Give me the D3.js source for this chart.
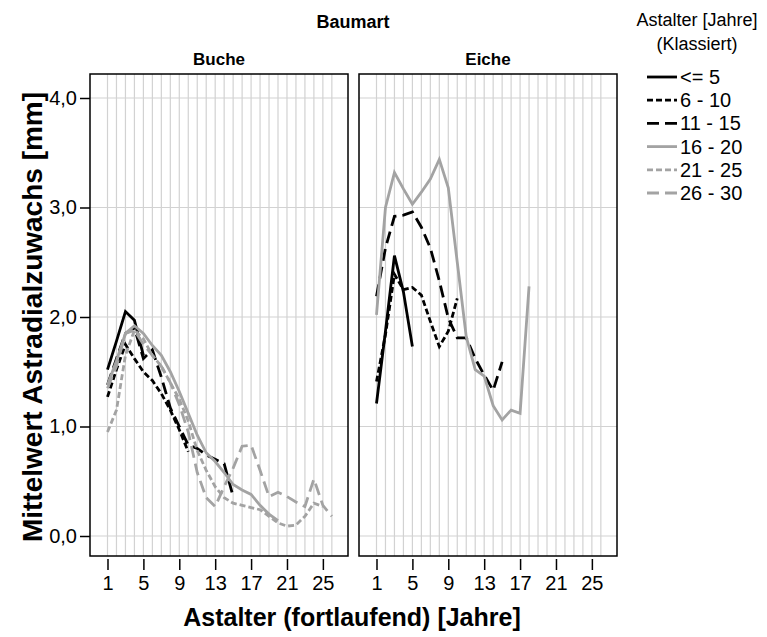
<!DOCTYPE html>
<html>
<head>
<meta charset="utf-8">
<script src="https://cdn.jsdelivr.net/npm/d3@7"></script>
<style>
  html, body { margin: 0; padding: 0; background: #fff; }
  svg { display: block; font-family: "Liberation Sans", Arial, sans-serif; }
</style>
</head>
<body>
<svg id="chart" width="767" height="637"></svg>
<script>
// Mean radial branch increment by branch age, per tree species and age class
const species = ["Buche", "Eiche"];
const ageClasses = ["<= 5", "6 - 10", "11 - 15", "16 - 20", "21 - 25", "26 - 30"];
const xTicks = [1, 5, 9, 13, 17, 21, 25];
const yTicks = [0, 1, 2, 3, 4];

// Buche (values for branch age 1, 2, 3, ...)
const bucheLe5   = [1.52, 1.78, 2.05, 1.97, 1.65];
const buche6_10  = [1.27, 1.52, 1.75, 1.62, 1.5, 1.42, 1.3, 1.15, 0.97, 0.77];
const buche11_15 = [1.38, 1.62, 1.85, 1.9, 1.62, 1.7, 1.45, 1.17, 1.0, 0.83, 0.8, 0.74, 0.7, 0.66, 0.36];
const buche16_20 = [1.38, 1.6, 1.85, 1.92, 1.85, 1.74, 1.65, 1.5, 1.32, 1.12, 0.92, 0.76, 0.68, 0.58, 0.47, 0.42, 0.38, 0.28, 0.2, 0.14];
const buche21_25 = [0.95, 1.15, 1.65, 1.88, 1.8, 1.65, 1.55, 1.4, 1.25, 1.05, 0.78, 0.6, 0.45, 0.35, 0.3, 0.28, 0.26, 0.24, 0.18, 0.12, 0.09, 0.1, 0.18, 0.3, 0.27];
const buche26_30 = [1.35, 1.55, 1.85, 1.88, 1.75, 1.65, 1.55, 1.4, 1.2, 0.95, 0.58, 0.35, 0.27, 0.45, 0.62, 0.82, 0.83, 0.6, 0.36, 0.4, 0.36, 0.31, 0.27, 0.52, 0.28, 0.18];

// Eiche
const eicheLe5   = [1.21, 1.87, 2.56, 2.23, 1.73];
const eiche6_10  = [1.41, 1.84, 2.39, 2.25, 2.27, 2.2, 1.96, 1.73, 1.87, 2.17];
const eiche11_15 = [2.19, 2.63, 2.92, 2.93, 2.96, 2.82, 2.63, 2.33, 1.99, 1.81, 1.81, 1.62, 1.47, 1.33, 1.59];
const eiche16_20 = [2.02, 3.0, 3.32, 3.17, 3.03, 3.14, 3.26, 3.44, 3.18, 2.5, 1.82, 1.52, 1.46, 1.19, 1.06, 1.15, 1.12, 2.28];

const seriesBySpecies = {
  Buche: [bucheLe5, buche6_10, buche11_15, buche16_20, buche21_25, buche26_30],
  Eiche: [eicheLe5, eiche6_10, eiche11_15, eiche16_20, [], []]
};

const lineStyles = [
  { color: "#000", dash: null },
  { color: "#000", dash: "6,3" },
  { color: "#000", dash: "12,6" },
  { color: "#a3a3a3", dash: null },
  { color: "#a3a3a3", dash: "6,3" },
  { color: "#a3a3a3", dash: "12,6" }
];

const svg = d3.select("#chart");
const panelW = 258, panelTop = 74, panelBottom = 556;
const panelLeft = { Buche: 90, Eiche: 359 };

const y = d3.scaleLinear().domain([0, 4]).range([536, 98]);

// Overall header and axis titles
svg.append("text").attr("x", 353).attr("y", 28).attr("text-anchor", "middle")
  .attr("font-size", 18).attr("font-weight", "bold").text("Baumart");
svg.append("text").attr("x", 352).attr("y", 626).attr("text-anchor", "middle")
  .attr("font-size", 25).attr("font-weight", "bold").text("Astalter (fortlaufend) [Jahre]");
svg.append("text").attr("transform", "translate(42,317) rotate(-90)").attr("text-anchor", "middle")
  .attr("font-size", 28).attr("font-weight", "bold").text("Mittelwert Astradialzuwachs [mm]");

species.forEach(sp => {
  const x0 = panelLeft[sp];
  const x = d3.scaleLinear().domain([-0.95, 27.8]).range([x0, x0 + panelW]);
  const g = svg.append("g");

  g.append("text").attr("x", x0 + panelW / 2).attr("y", 65).attr("text-anchor", "middle")
    .attr("font-size", 17).attr("font-weight", "bold").text(sp);

  // grid
  g.append("g").selectAll("line").data(d3.range(1, 27)).join("line")
    .attr("x1", d => x(d)).attr("x2", d => x(d)).attr("y1", panelTop).attr("y2", panelBottom)
    .attr("stroke", "#d2d2d2").attr("stroke-width", 1.2);
  g.append("g").selectAll("line").data(yTicks).join("line")
    .attr("x1", x0).attr("x2", x0 + panelW).attr("y1", d => y(d)).attr("y2", d => y(d))
    .attr("stroke", "#d2d2d2").attr("stroke-width", 1.2);

  // series
  const line = d3.line().x((d, i) => x(i + 1)).y(d => y(d));
  seriesBySpecies[sp].forEach((vals, k) => {
    if (!vals.length) return;
    g.append("path").datum(vals).attr("d", line).attr("fill", "none")
      .attr("stroke", lineStyles[k].color).attr("stroke-width", 2.8)
      .attr("stroke-dasharray", lineStyles[k].dash)
      .attr("stroke-linejoin", "miter");
  });

  // panel frame
  g.append("rect").attr("x", x0).attr("y", panelTop).attr("width", panelW).attr("height", panelBottom - panelTop)
    .attr("fill", "none").attr("stroke", "#000").attr("stroke-width", 1.5);

  // x axis
  const xAxis = d3.axisBottom(x).tickValues(xTicks).tickSize(11).tickPadding(6).tickFormat(d3.format("d"));
  const ax = g.append("g").attr("transform", `translate(0,${panelBottom + 3})`).call(xAxis);
  ax.select(".domain").remove();
  ax.selectAll("line").attr("stroke", "#000").attr("stroke-width", 1.5);
  ax.selectAll("text").attr("font-size", 20).attr("font-family", "Liberation Sans, Arial, sans-serif").attr("fill", "#000");
});

// y axis
const yAxis = d3.axisLeft(y).tickValues(yTicks).tickSize(10).tickPadding(3)
  .tickFormat(d => d3.format(".1f")(d).replace(".", ","));
const ay = svg.append("g").attr("transform", "translate(90,0)").call(yAxis);
ay.select(".domain").remove();
ay.selectAll("line").attr("stroke", "#000").attr("stroke-width", 1.5);
ay.selectAll("text").attr("font-size", 20).attr("font-family", "Liberation Sans, Arial, sans-serif").attr("fill", "#000");

// legend
const lg = svg.append("g");
lg.append("text").attr("x", 697).attr("y", 26).attr("text-anchor", "middle").attr("font-size", 18).text("Astalter [Jahre]");
lg.append("text").attr("x", 697).attr("y", 50).attr("text-anchor", "middle").attr("font-size", 18).text("(Klassiert)");
ageClasses.forEach((c, k) => {
  const cy = 77 + k * 23.2;
  lg.append("line").attr("x1", 647).attr("x2", 677).attr("y1", cy).attr("y2", cy)
    .attr("stroke", lineStyles[k].color).attr("stroke-width", 2.8)
    .attr("stroke-dasharray", lineStyles[k].dash);
  lg.append("text").attr("x", 680).attr("y", cy + 7).attr("font-size", 20).text(c);
});
</script>
</body>
</html>
